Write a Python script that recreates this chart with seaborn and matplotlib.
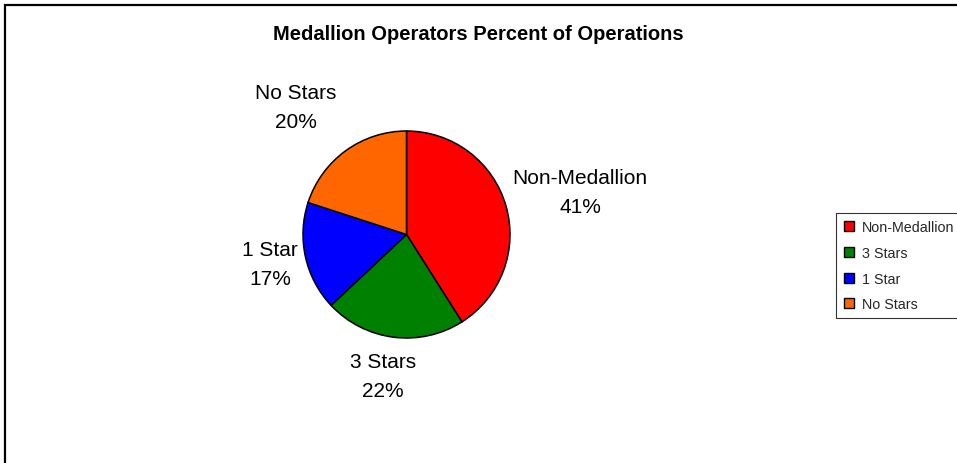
import numpy as np
import matplotlib
matplotlib.use("Agg")
import matplotlib.pyplot as plt
from matplotlib.lines import Line2D
from matplotlib.patches import Rectangle
import seaborn as sns

# datos del grafico
categorias = ["Non-Medallion", "3 Stars", "1 Star", "No Stars"]
porcentajes = [41, 22, 17, 20]
leyenda = ["Non-Medallion", "3 Stars", "1 Star", "No Stars"]
colores = ["#FF0000", "#008000", "#0000FF", "#FF6600"]
titulo = "Medallion Operators Percent of Operations"

sns.set_theme(style="white")
plt.rcParams["font.family"] = ["Liberation Sans", "DejaVu Sans"]

W, H = 957, 464
fig = plt.figure(figsize=(W / 100, H / 100), dpi=100)
fig.patch.set_facecolor("white")

# centro y radio del pastel en pixeles
cx, cy, r = 406.5, 235.5, 103.5
ax = fig.add_axes([0, 0, 1, 1])
pal = sns.color_palette(colores)
wedges, texts = ax.pie(porcentajes, colors=pal, startangle=90, counterclock=False,
                       labels=[f"{c}\n{p}%" for c, p in zip(categorias, porcentajes)],
                       wedgeprops=dict(edgecolor="black", linewidth=1.1),
                       textprops=dict(fontsize=15, color="black", ha="center", va="center",
                                      linespacing=1.62))
# distancia (radios) y ajuste de angulo (grados) de cada etiqueta, como en excel
dist = [1.726, 1.386, 1.35, 1.631]
giro = [-2.4, -2.2, -0.4, 4.9]
for w, t, d, g in zip(wedges, texts, dist, giro):
    ang = np.deg2rad((w.theta1 + w.theta2) / 2 + g)
    t.set_position((d * np.cos(ang), d * np.sin(ang)))

ax.set_aspect("auto")
ax.set_xlim(-cx / r, (W - cx) / r)
ax.set_ylim(-(H - cy) / r, cy / r)
ax.axis("off")

fig.text(478 / W, 1 - 35 / H, titulo, ha="center", va="center",
         fontsize=14.5, fontweight="bold", color="black")

# marco del area del grafico
fig.patches.append(Rectangle((5 / W, -0.1), 1.2, 1.1 - 6 / H, transform=fig.transFigure,
                             fill=False, edgecolor="black", linewidth=1.6))

handles = [Line2D([], [], marker="s", linestyle="", markersize=6.5, markerfacecolor=c,
                  markeredgecolor="black", markeredgewidth=1.0) for c in colores]
leg = fig.legend(handles, leyenda, loc="upper left", bbox_to_anchor=(836 / W, 1 - 214 / H),
                 fontsize=10.3, frameon=True, fancybox=False, borderaxespad=0,
                 handlelength=0.8, handletextpad=0.5, labelspacing=0.82, borderpad=0.5)
leg.get_frame().set_edgecolor("black")
leg.get_frame().set_linewidth(0.8)

fig.savefig("out.png", dpi=100)
